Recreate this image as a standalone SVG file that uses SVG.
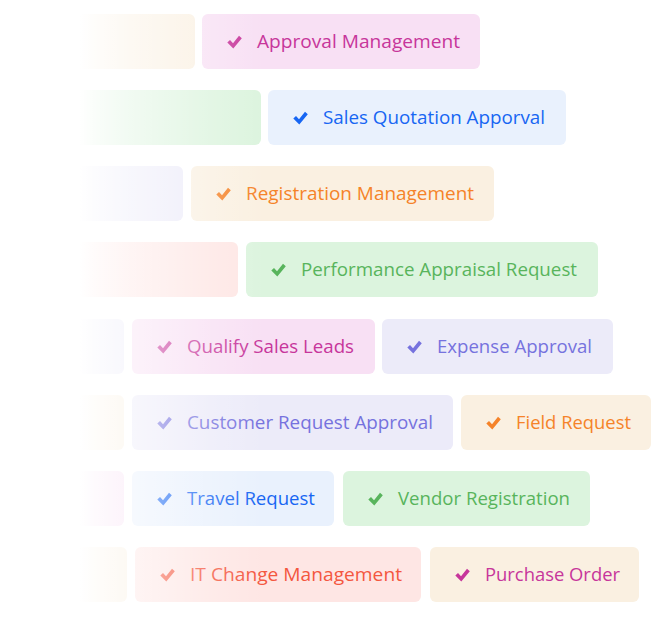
<svg xmlns="http://www.w3.org/2000/svg" xmlns:xlink="http://www.w3.org/1999/xlink" width="670" height="626" viewBox="0 0 670 626">
<defs>
<style>
text{font-family:"Open Sans","Liberation Sans",sans-serif;font-size:18px;}
.pk{fill:#f8e0f4}.pkt{fill:#c7369b}
.bl{fill:#e9f1fd}.blt{fill:#1766f3}
.be{fill:#faf0e1}.bet{fill:#f58329}
.gr{fill:#dcf4de}.grt{fill:#58b45c}
.lv{fill:#ecebf9}.lvt{fill:#7672de}
.rd{fill:#fee6e4}.rdt{fill:#f4573f}
</style>
<path id="chk" d="M-7.2,0.5 L-4.5,-2 L-1.5,1.2 L4.5,-6.3 L7.3,-3.8 L-1.2,6.4 Z" stroke-linejoin="round"/>
<linearGradient id="fade" gradientUnits="userSpaceOnUse" x1="80" y1="0" x2="265" y2="0">
<stop offset="0" stop-color="#fff" stop-opacity="1"/>
<stop offset="0.08" stop-color="#fff" stop-opacity="0.85"/>
<stop offset="0.28" stop-color="#fff" stop-opacity="0.6"/>
<stop offset="0.48" stop-color="#fff" stop-opacity="0.42"/>
<stop offset="0.72" stop-color="#fff" stop-opacity="0.2"/>
<stop offset="1" stop-color="#fff" stop-opacity="0"/>
</linearGradient>
</defs>
<rect width="670" height="626" fill="#fff"/>
<g id="connectors"/>
<!-- row 1 -->
<g id="r1-ghost"><rect class="be" x="-20" y="14" width="215" height="55" rx="6"/></g>
<g id="approval-management"><rect class="pk" x="202" y="14" width="278" height="55" rx="6"/><use href="#chk" x="234.5" y="42" class="pkt"/><text class="pkt" x="257" y="47.5" textLength="203" lengthAdjust="spacingAndGlyphs">Approval Management</text></g>
<!-- row 2 -->
<g id="r2-ghost"><rect class="gr" x="-20" y="90" width="281" height="55" rx="6"/></g>
<g id="sales-quotation"><rect class="bl" x="268" y="90" width="298" height="55" rx="6"/><use href="#chk" x="300.5" y="118" class="blt"/><text class="blt" x="323" y="123.5" textLength="222" lengthAdjust="spacingAndGlyphs">Sales Quotation Apporval</text></g>
<!-- row 3 -->
<g id="r3-ghost"><rect class="lv" x="-20" y="166" width="203" height="55" rx="6"/></g>
<g id="registration-management"><rect class="be" x="191" y="166" width="303" height="55" rx="6"/><use href="#chk" x="223.5" y="194" class="bet"/><text class="bet" x="246" y="199.5" textLength="228" lengthAdjust="spacingAndGlyphs">Registration Management</text></g>
<!-- row 4 -->
<g id="r4-ghost"><rect class="rd" x="-20" y="242" width="258" height="55" rx="6"/></g>
<g id="performance-appraisal"><rect class="gr" x="246" y="242" width="352" height="55" rx="6"/><use href="#chk" x="278.5" y="270" class="grt"/><text class="grt" x="301" y="275.5" textLength="276" lengthAdjust="spacingAndGlyphs">Performance Appraisal Request</text></g>
<!-- row 5 -->
<g id="r5-ghost"><rect class="lv" x="-20" y="319" width="144" height="55" rx="6"/></g>
<g id="qualify-sales-leads"><rect class="pk" x="132" y="319" width="243" height="55" rx="6"/><use href="#chk" x="164.5" y="347" class="pkt"/><text class="pkt" x="187" y="352.5" textLength="167" lengthAdjust="spacingAndGlyphs">Qualify Sales Leads</text></g>
<g id="expense-approval"><rect class="lv" x="382" y="319" width="231" height="55" rx="6"/><use href="#chk" x="414.5" y="347" class="lvt"/><text class="lvt" x="437" y="352.5" textLength="155" lengthAdjust="spacingAndGlyphs">Expense Approval</text></g>
<!-- row 6 -->
<g id="r6-ghost"><rect class="be" x="-20" y="395" width="144" height="55" rx="6"/></g>
<g id="customer-request-approval"><rect class="lv" x="132" y="395" width="321" height="55" rx="6"/><use href="#chk" x="164.5" y="423" class="lvt"/><text class="lvt" x="187" y="428.5" textLength="246" lengthAdjust="spacingAndGlyphs">Customer Request Approval</text></g>
<g id="field-request"><rect class="be" x="461" y="395" width="190" height="55" rx="6"/><use href="#chk" x="493.5" y="423" class="bet"/><text class="bet" x="516" y="428.5" textLength="115" lengthAdjust="spacingAndGlyphs">Field Request</text></g>
<!-- row 7 -->
<g id="r7-ghost"><rect class="pk" x="-20" y="471" width="144" height="55" rx="6"/></g>
<g id="travel-request"><rect class="bl" x="132" y="471" width="202" height="55" rx="6"/><use href="#chk" x="164.5" y="499" class="blt"/><text class="blt" x="187" y="504.5" textLength="128" lengthAdjust="spacingAndGlyphs">Travel Request</text></g>
<g id="vendor-registration"><rect class="gr" x="343" y="471" width="247" height="55" rx="6"/><use href="#chk" x="375.5" y="499" class="grt"/><text class="grt" x="398" y="504.5" textLength="172" lengthAdjust="spacingAndGlyphs">Vendor Registration</text></g>
<!-- row 8 -->
<g id="r8-ghost"><rect class="be" x="-20" y="547" width="147" height="55" rx="6"/></g>
<g id="it-change-management"><rect class="rd" x="135" y="547" width="286" height="55" rx="6"/><use href="#chk" x="167.5" y="575" class="rdt"/><text class="rdt" x="190" y="580.5" textLength="212" lengthAdjust="spacingAndGlyphs">IT Change Management</text></g>
<g id="purchase-order"><rect class="be" x="430" y="547" width="209" height="55" rx="6"/><use href="#chk" x="462.5" y="575" class="pkt"/><text class="pkt" x="485" y="580.5" textLength="135" lengthAdjust="spacingAndGlyphs">Purchase Order</text></g>
<!-- left fade -->
<rect x="0" y="0" width="80" height="626" fill="#fff"/>
<rect x="80" y="0" width="186" height="626" fill="url(#fade)"/>
</svg>
